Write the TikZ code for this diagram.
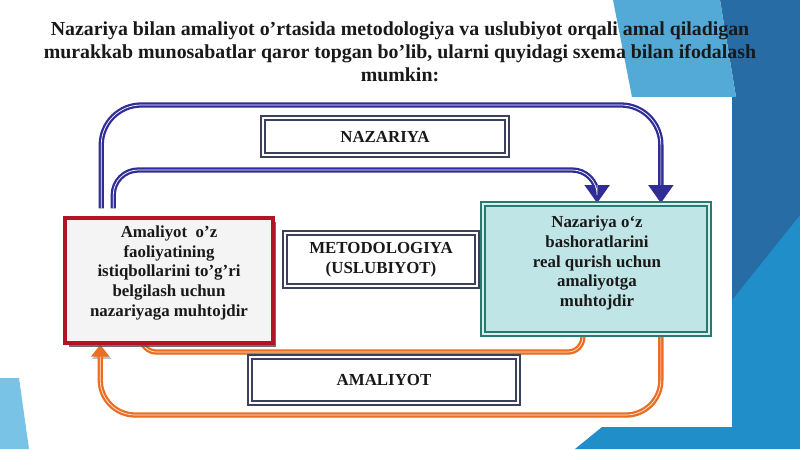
\documentclass[tikz,border=0pt]{standalone}
\usepackage{fontspec}
\setmainfont{Liberation Serif}
\usepackage{tikz}
\usetikzlibrary{arrows.meta,backgrounds,shadows}

\definecolor{arrblue}{RGB}{48,46,150}
\definecolor{arrorange}{RGB}{236,110,36}
\definecolor{boxline}{RGB}{60,64,90}
\definecolor{redline}{RGB}{178,20,38}
\definecolor{leftfill}{RGB}{244,244,244}
\definecolor{tealline}{RGB}{40,122,112}
\definecolor{tealfill}{RGB}{192,229,230}
\definecolor{bglight}{RGB}{84,170,214}
\definecolor{bgdark}{RGB}{40,108,165}
\definecolor{bgmid}{RGB}{32,142,200}
\definecolor{bgleft}{RGB}{120,195,230}

\tikzset{
	titletext/.style={align=center,text=black!90,font=\bfseries\fontsize{11.3}{13.2}\selectfont},
	boxtext/.style={align=center,text=black!90,font=\bfseries\fontsize{9.6}{11.2}\selectfont},
	graybox/.style={boxtext,draw=boxline,line width=1.2pt,double=white,double distance=1.2pt,fill=white},
	redbox/.style={draw=redline,line width=2pt,fill=leftfill,drop shadow={shadow xshift=2pt,shadow yshift=-2pt,fill=black!70,opacity=0.8}},
	tealbox/.style={draw=tealline,line width=1pt,double=tealfill!60,double distance=1.4pt,fill=tealfill},
	bluearr/.style={draw=arrblue,line width=3pt,-{Triangle[length=0.36cm,width=0.48cm]},shorten <=0.16cm,
		postaction={draw=white,line width=0.4pt,-,shorten >=0.36cm}},
	orangearr/.style={draw=arrorange,line width=3pt,-{Triangle[length=0.24cm,width=0.36cm]},
		preaction={draw=black!25,transform canvas={xshift=0.8pt,yshift=-1.2pt}},
		postaction={draw=orange!15,line width=0.4pt,-,shorten >=0.24cm}}
}

\begin{document}
\begin{tikzpicture}[x=0.02cm,y=-0.02cm]
	\useasboundingbox (0,0) rectangle (800,449);
	\begin{scope}[on background layer]
		\fill[white] (0,0) rectangle (800,449);
		\fill[bgmid] (732,97) rectangle (800,449);
		\fill[bgmid] (575,449) -- (602,427) -- (800,427) -- (800,449) -- cycle;
		\fill[bgdark] (720,0) -- (800,0) -- (800,215) -- (732,300) -- (732,97) -- (736,97) -- cycle;
		\fill[bglight] (613,0) -- (720,0) -- (736,97) -- (632,97) -- cycle;
		\fill[bgleft] (0,378) -- (19,378) -- (29,449) -- (0,449) -- cycle;
	\end{scope}

	\node[titletext] (title) at (400,52) {Nazariya bilan amaliyot o’rtasida metodologiya va uslubiyot orqali amal qiladigan\\murakkab munosabatlar qaror topgan bo’lib, ularni quyidagi sxema bilan ifodalash\\mumkin:};

	\node[graybox,minimum width=4.88cm,minimum height=0.74cm] (nazlabel) at (385,136.5) {NAZARIYA};
	\node[graybox,minimum width=3.84cm,minimum height=1.06cm] (metod) at (381,259.5) {METODOLOGIYA\\(USLUBIYOT)};
	\node[graybox,minimum width=5.36cm,minimum height=0.92cm] (amallabel) at (384,380) {AMALIYOT};

	\node[redbox,minimum width=4.16cm,minimum height=2.5cm] (amalbox) at (169,280.5) {};
	\node[boxtext] (amaltext) at (169,273) {Amaliyot\ \ o’z\\faoliyatining\\istiqbollarini to’g’ri\\belgilash uchun\\nazariyaga muhtojdir};
	\node[tealbox,minimum width=4.52cm,minimum height=2.6cm] (nazbox) at (596,269) {};
	\node[boxtext] (naztext) at (597,263) {Nazariya o`z\\bashoratlarini\\real qurish uchun\\amaliyotga\\muhtojdir};

	\coordinate (outtop) at (380,105);
	\coordinate (intop) at (380,170);
	\coordinate (outbot) at (380,415);
	\coordinate (inbot) at (380,352);
	\begin{scope}[on background layer]
		\draw[bluearr,rounded corners=0.8cm] ([xshift=0.76cm]amalbox.north west) |- (outtop) -| ([xshift=-0.98cm]nazbox.north east);
		\draw[bluearr,rounded corners=0.5cm] ([xshift=1cm]amalbox.north west) |- (intop) -| ([xshift=2.3cm]nazbox.north west);
		\draw[orangearr,rounded corners=0.7cm] ([xshift=-0.98cm]nazbox.south east) |- (outbot) -| ([xshift=0.74cm]amalbox.south west);
		\draw[orangearr,rounded corners=0.3cm] ([xshift=-2.54cm]nazbox.south east) |- (inbot) -| ([xshift=1.56cm,yshift=0.3cm]amalbox.south west);
	\end{scope}
\end{tikzpicture}
\end{document}
